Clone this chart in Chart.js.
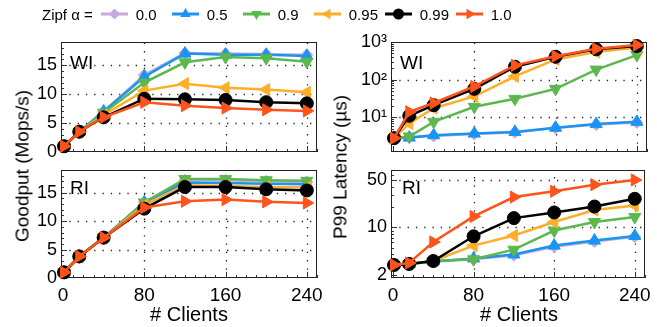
<!DOCTYPE html>
<html>
<head>
<meta charset="utf-8">
<script src="https://cdn.jsdelivr.net/npm/chart.js@4.4.1/dist/chart.umd.min.js"></script>
<style>
  body { margin: 0; background: #fff; font-family: "Liberation Sans", Arial, Helvetica, sans-serif; }
  #wrap { position: relative; width: 657px; height: 327px; overflow: hidden; }
  canvas { position: absolute; left: 0; top: 0; }
  .t { position: absolute; white-space: nowrap; color: #000; line-height: 1; }
  .rot { transform: translate(-50%, -50%) rotate(-90deg); }
  .ctr { transform: translate(-50%, -50%); }
  #legend { position: absolute; left: 42px; top: 4px; height: 20px; display: flex; align-items: center; font-size: 15px; }
  #legend .item { width: 71px; display: flex; align-items: center; }
  #legend svg { margin-right: 8px; }
</style>
</head>
<body>
<div id="wrap">
  <canvas id="gpWI" width="657" height="327"></canvas>
  <canvas id="gpRI" width="657" height="327"></canvas>
  <canvas id="latWI" width="657" height="327"></canvas>
  <canvas id="latRI" width="657" height="327"></canvas>

  <div id="legend"><span style="margin-right:8px">Zipf α =</span></div>

  <div class="t rot" style="left:22px;top:166px;font-size:19px">Goodput (Mops/s)</div>
  <div class="t rot" style="left:340px;top:167px;font-size:19px">P99 Latency (µs)</div>
  <div class="t ctr" style="left:189px;top:314px;font-size:20px"># Clients</div>
  <div class="t ctr" style="left:519px;top:314px;font-size:20px"># Clients</div>

  <div class="t" style="left:70px;top:53px;font-size:19px">WI</div>
  <div class="t" style="left:70px;top:178px;font-size:19px">RI</div>
  <div class="t" style="left:400px;top:53px;font-size:19px">WI</div>
  <div class="t" style="left:402px;top:178px;font-size:19px">RI</div>
</div>

<script>
// ---- data ----
const clients = [1, 16, 40, 80, 120, 160, 200, 240];
const alphaLabels = ['0.0', '0.5', '0.9', '0.95', '0.99', '1.0'];
const clientTicks = [0, 80, 160, 240];
const goodputTicks = [0, 5, 10, 15];
const latWITicks = [10, 100, 1000];
const latRITicks = [2, 10, 50];

// goodput in Mops/s, one row per alpha (0.0, 0.5, 0.9, 0.95, 0.99, 1.0)
const goodputWI = [
  [1.0, 3.5, 7.0, 13.3, 17.1, 17.0, 16.9, 16.8],
  [1.0, 3.5, 7.0, 13.0, 17.0, 16.8, 16.8, 16.6],
  [1.0, 3.5, 6.8, 12.0, 15.5, 16.4, 16.2, 15.6],
  [1.0, 3.5, 6.4, 10.6, 11.8, 11.1, 10.8, 10.3],
  [1.0, 3.5, 6.0, 9.2, 9.1, 9.0, 8.6, 8.4],
  [1.0, 3.5, 6.0, 8.6, 8.0, 7.6, 7.3, 7.1]
];
const goodputRI = [
  [1.0, 3.8, 7.1, 13.3, 17.2, 17.2, 17.0, 16.9],
  [1.0, 3.8, 7.1, 13.3, 16.8, 16.7, 16.6, 16.5],
  [1.0, 3.8, 7.1, 13.3, 17.4, 17.4, 17.2, 17.1],
  [1.0, 3.8, 7.1, 12.8, 16.3, 16.2, 16.0, 15.9],
  [1.0, 3.8, 7.1, 12.2, 16.0, 16.0, 15.6, 15.4],
  [1.0, 3.8, 7.1, 12.4, 13.5, 13.8, 13.4, 13.2]
];

// P99 latency in microseconds
const latencyWI = [
  [2.8, 2.9, 3.2, 3.6, 4.0, 5.2, 6.4, 7.3],
  [2.8, 2.9, 3.35, 3.7, 4.1, 5.3, 6.6, 7.6],
  [2.8, 3.1, 7.6, 19, 31, 57, 185, 450],
  [2.8, 6.9, 17.4, 36, 123, 345, 540, 710],
  [2.8, 11, 21, 57, 220, 405, 640, 780],
  [2.8, 14, 24, 66, 240, 420, 660, 830]
];
const latencyRI = [
  [2.8, 2.9, 3.15, 3.4, 3.9, 5.2, 6.2, 7.3],
  [2.8, 2.9, 3.15, 3.5, 4.0, 5.4, 6.4, 7.5],
  [2.8, 2.9, 3.2, 3.4, 4.7, 9.0, 12, 14.2],
  [2.8, 2.9, 3.2, 5.4, 7.6, 12, 18, 21],
  [2.8, 2.9, 3.2, 7.4, 13.7, 16.6, 20.3, 26.4],
  [2.8, 3.0, 6.1, 14.5, 28, 34, 42.5, 50]
];

// ---- styles ----
const colors = ['#c8a9dc', '#1a94f2', '#5cb84e', '#ffae2b', '#000000', '#ff531c'];
const markers = ['rectRot', 'triangle', 'triangle', 'triangle', 'circle', 'triangle'];
const rotations = [0, 0, 180, 270, 0, 90];
const radii = [6, 7, 7, 7, 6.5, 7];

function range(a, b, step) {
  const out = [];
  for (let v = a; v <= b + 1e-9; v += step) out.push(v);
  return out;
}
function logMinors(decades) {
  const out = [];
  decades.forEach(d => { for (let m = 1; m < 10; m++) out.push(m * d); });
  return out;
}

// dotted grid, box and inward tick marks
const frame = {
  id: 'frame',
  beforeDatasetsDraw(chart, args, o) {
    const { ctx, chartArea: a } = chart;
    const xs = chart.scales.x, ys = chart.scales.y;
    const inX = v => v >= xs.min && v <= xs.max;
    const inY = v => v >= ys.min && v <= ys.max;
    ctx.save();
    ctx.strokeStyle = '#222';
    ctx.lineWidth = 1.3;
    ctx.setLineDash([1.3, 7]);
    o.xGrid.forEach(v => {
      const px = Math.round(xs.getPixelForValue(v)) + 0.5;
      ctx.beginPath(); ctx.moveTo(px, a.bottom); ctx.lineTo(px, a.top); ctx.stroke();
    });
    o.yGrid.forEach(v => {
      const py = Math.round(ys.getPixelForValue(v)) + 0.5;
      ctx.beginPath(); ctx.moveTo(a.left, py); ctx.lineTo(a.right, py); ctx.stroke();
    });
    ctx.setLineDash([]);
    ctx.lineWidth = 1;
    ctx.strokeStyle = '#333';
    const tickX = (v, len) => {
      if (!inX(v)) return;
      const px = Math.round(xs.getPixelForValue(v)) + 0.5;
      ctx.beginPath(); ctx.moveTo(px, a.bottom); ctx.lineTo(px, a.bottom - len); ctx.stroke();
    };
    const tickY = (v, len) => {
      if (!inY(v)) return;
      const py = Math.round(ys.getPixelForValue(v)) + 0.5;
      ctx.beginPath(); ctx.moveTo(a.left, py); ctx.lineTo(a.left + len, py); ctx.stroke();
    };
    o.xMinor.forEach(v => tickX(v, 3));
    o.xMajor.forEach(v => tickX(v, 6));
    o.yMinor.forEach(v => tickY(v, 3));
    o.yMajor.forEach(v => tickY(v, 6));
    ctx.strokeStyle = '#222';
    ctx.strokeRect(Math.round(a.left) + 0.5, Math.round(a.top) + 0.5,
      Math.round(a.width) - 1, Math.round(a.height) - 1);
    ctx.restore();
  }
};

const Y_W = 40;
const X_H = 30;

function makePanel(id, area, series, y, showX) {
  const [L, T, R, B] = area;
  const xH = showX ? X_H : 0;
  return new Chart(document.getElementById(id), {
    type: 'line',
    data: {
      datasets: series.map((vals, i) => ({
        label: alphaLabels[i],
        data: clients.map((c, j) => ({ x: c, y: vals[j] })),
        borderColor: colors[i],
        backgroundColor: colors[i],
        borderWidth: 2.5,
        pointStyle: markers[i],
        pointRotation: rotations[i],
        pointRadius: radii[i],
        pointBorderWidth: 1,
        pointBackgroundColor: colors[i],
        pointBorderColor: colors[i],
        tension: 0,
        clip: false,
        order: 6 - i
      }))
    },
    options: {
      responsive: false,
      animation: false,
      events: [],
      layout: { padding: { left: L - Y_W, top: T, right: 657 - R, bottom: 327 - B - xH } },
      plugins: {
        legend: { display: false },
        tooltip: { enabled: false },
        frame: {
          xGrid: [80, 160, 240],
          yGrid: y.grid,
          xMajor: clientTicks,
          xMinor: range(0, 250, 10),
          yMajor: y.ticks,
          yMinor: y.minor
        }
      },
      scales: {
        x: {
          type: 'linear', min: -2, max: 250,
          grid: { display: false, drawTicks: false },
          border: { display: false },
          afterBuildTicks: s => { s.ticks = clientTicks.map(v => ({ value: v })); },
          afterFit: s => { s.height = xH; },
          ticks: {
            display: showX, autoSkip: false, maxRotation: 0, padding: 6,
            color: '#000', font: { size: 19, family: '"Liberation Sans", Arial, sans-serif' },
            callback: v => String(v)
          }
        },
        y: {
          type: y.type, min: y.min, max: y.max,
          grid: { display: false, drawTicks: false },
          border: { display: false },
          afterBuildTicks: s => { s.ticks = y.ticks.map(v => ({ value: v })); },
          afterFit: s => { s.width = Y_W; },
          ticks: {
            autoSkip: false, padding: 4,
            color: '#000', font: { size: 18, family: '"Liberation Sans", Arial, sans-serif' },
            callback: y.label
          }
        }
      }
    },
    plugins: [frame]
  });
}

const goodputAxis = {
  type: 'linear', min: 0, max: 19, ticks: goodputTicks, grid: [5, 10, 15],
  minor: range(0, 19, 1), label: v => String(v)
};
const supers = { 10: '10\u00b9', 100: '10\u00b2', 1000: '10\u00b3' };
const latWIAxis = {
  type: 'logarithmic', min: 1.2, max: 1000, ticks: latWITicks, grid: [10, 100],
  minor: logMinors([1, 10, 100]), label: v => supers[v] || String(v)
};
const latRIAxis = {
  type: 'logarithmic', min: 1.8, max: 70, ticks: latRITicks, grid: [10, 50],
  minor: logMinors([1, 10]), label: v => String(v)
};

makePanel('gpWI', [61, 42, 317, 152], goodputWI, goodputAxis, false);
makePanel('gpRI', [61, 170, 317, 278], goodputRI, goodputAxis, true);
makePanel('latWI', [391, 42, 647, 152], latencyWI, latWIAxis, false);
makePanel('latRI', [391, 170, 647, 278], latencyRI, latRIAxis, true);

// ---- legend ----
function markerSvg(i) {
  const w = 27, h = 16, cx = 13.5, cy = 8;
  let shape;
  if (markers[i] === 'circle') {
    shape = `<circle cx="${cx}" cy="${cy}" r="5.5" fill="${colors[i]}"/>`;
  } else if (markers[i] === 'rectRot') {
    const r = 5.5;
    shape = `<polygon points="${cx},${cy - r} ${cx + r},${cy} ${cx},${cy + r} ${cx - r},${cy}" fill="${colors[i]}"/>`;
  } else {
    const r = 6;
    const pts = [0, 1, 2].map(k => {
      const a = (rotations[i] + k * 120) * Math.PI / 180;
      return `${(cx + Math.sin(a) * r).toFixed(2)},${(cy - Math.cos(a) * r).toFixed(2)}`;
    }).join(' ');
    shape = `<polygon points="${pts}" fill="${colors[i]}"/>`;
  }
  return `<svg width="${w}" height="${h}"><line x1="0" y1="${cy}" x2="${w}" y2="${cy}" stroke="${colors[i]}" stroke-width="3"/>${shape}</svg>`;
}
const legend = document.getElementById('legend');
alphaLabels.forEach((lab, i) => {
  const item = document.createElement('div');
  item.className = 'item';
  item.innerHTML = markerSvg(i) + `<span>${lab}</span>`;
  legend.appendChild(item);
});
</script>
</body>
</html>
